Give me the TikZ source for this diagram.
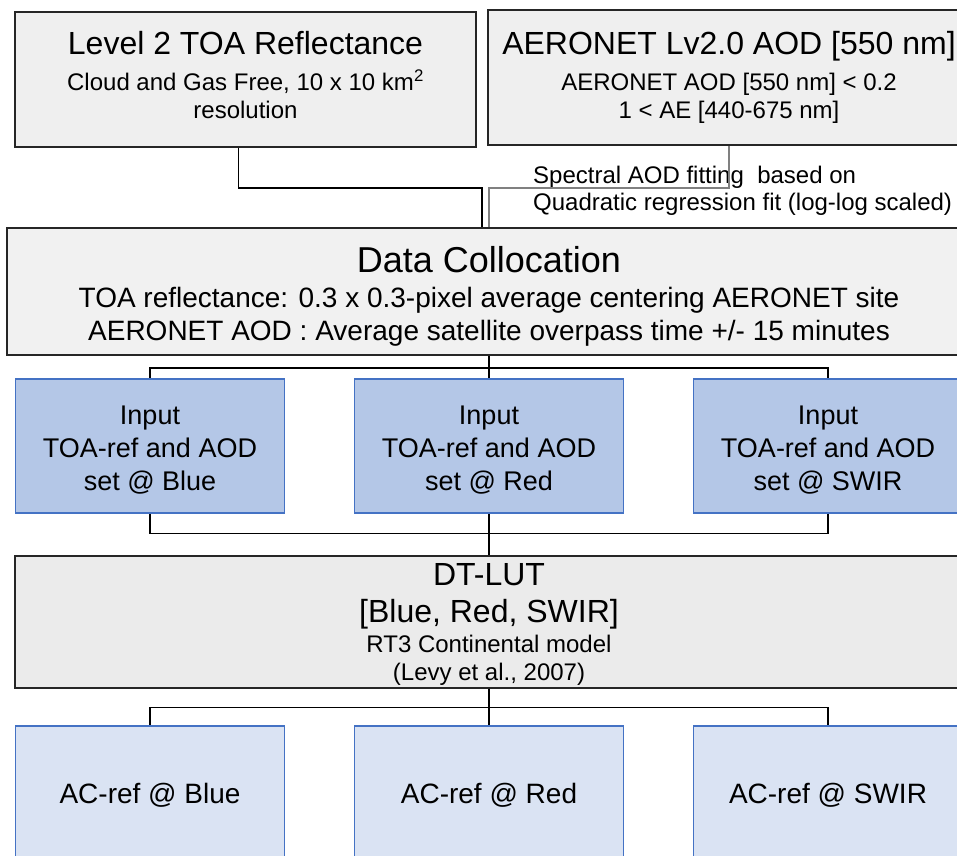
\documentclass[tikz,border=0pt]{standalone}
\usepackage{fontspec}
\setmainfont{Liberation Sans}
\definecolor{boxgrey}{RGB}{239,239,239}
\definecolor{lutgrey}{RGB}{235,235,235}
\definecolor{inputblue}{RGB}{180,199,231}
\definecolor{resultblue}{RGB}{218,227,243}
\definecolor{edgeblue}{RGB}{68,114,196}
\tikzset{
  greybox/.style={draw=black!85, line width=2pt, fill=boxgrey, align=center, inner sep=0pt},
  inputbox/.style={draw=edgeblue, line width=1.6pt, fill=inputblue, align=center, inner sep=0pt,
    minimum width=269pt, minimum height=134pt, text height=100pt, text depth=12pt,
    font=\fontsize{27}{33}\selectfont},
  resultbox/.style={draw=edgeblue, line width=1.6pt, fill=resultblue, inner sep=0pt,
    minimum width=269pt, minimum height=134pt, text height=20pt, text depth=0pt,
    font=\fontsize{28}{33}\selectfont},
  link/.style={line width=1.2pt, draw=black}
}
\newcommand{\headsize}{\fontsize{32}{36}\selectfont}
\begin{document}
\begin{tikzpicture}[x=1pt,y=-1pt]
\path [use as bounding box, fill=white] (0,0) rectangle (957,855);
\clip (0,0) rectangle (957,855);
% sources
\node [greybox, minimum width=461pt, minimum height=135pt, text height=90pt, text depth=11.8pt,
  font=\fontsize{24}{28}\selectfont] (lvl2) at (245.5,79.5)
  {{\headsize Level 2 TOA Reflectance}\\[8pt]Cloud and Gas Free, 10 x 10 km\textsuperscript{2}\\resolution};
\node [greybox, minimum width=482pt, minimum height=135pt, text height=90pt, text depth=7.8pt,
  font=\fontsize{24}{28}\selectfont] (aeronet) at (729,77.5)
  {{\headsize AERONET Lv2.0 AOD [550 nm]}\\[8pt]AERONET AOD [550 nm] < 0.2\\1 < AE [440-675 nm]};
\node [anchor=base west, align=left, inner sep=0pt, font=\fontsize{24}{27}\selectfont] (fitnote) at (533,210)
  {Spectral AOD fitting\ \ based on\\Quadratic regression fit (log-log scaled)};
% collocation
\node [greybox, fill=boxgrey!90!white, minimum width=964pt, minimum height=127pt, text height=110pt, text depth=13pt,
  font=\fontsize{28}{33}\selectfont] (colloc) at (489,291.5)
  {{\fontsize{36}{40}\selectfont Data Collocation}\\[2pt]TOA reflectance: 0.3 x 0.3-pixel average centering AERONET site\\AERONET AOD : Average satellite overpass time +/- 15 minutes};
\draw [link] ([xshift=-7pt]lvl2.south) -- ++(0,40) -| ([xshift=-7pt]colloc.north);
\draw [link, draw=black!50] (aeronet.south) -- ++(0,42) -| (colloc.north);
% inputs per band
\node [inputbox] (inblue) at (150,446) {Input\\TOA-ref and AOD\\set @ Blue};
\node [inputbox] (inred) at (489,446) {Input\\TOA-ref and AOD\\set @ Red};
\node [inputbox] (inswir) at (828,446) {Input\\TOA-ref and AOD\\set @ SWIR};
\draw [link] (colloc.south) -- ++(0,12) -| (inblue.north);
\draw [link] (colloc.south) -- (inred.north);
\draw [link] (colloc.south) -- ++(0,12) -| (inswir.north);
% look-up table
\node [greybox, fill=lutgrey, minimum width=948pt, minimum height=132pt, text height=122pt, text depth=5pt,
  font=\fontsize{24}{28}\selectfont] (dtlut) at (489,621.5)
  {{\headsize DT-LUT}\\[9.7pt]{\headsize [Blue, Red, SWIR]}\\[1.3pt]RT3 Continental model\\(Levy et al., 2007)};
\draw [link] (inblue.south) -- ++(0,20) -| (dtlut.north);
\draw [link] (inred.south) -- (dtlut.north);
\draw [link] (inswir.south) -- ++(0,20) -| (dtlut.north);
% corrected reflectance
\node [resultbox] (acblue) at (150,793) {AC-ref @ Blue};
\node [resultbox] (acred) at (489,793) {AC-ref @ Red};
\node [resultbox] (acswir) at (828,793) {AC-ref @ SWIR};
\draw [link] (dtlut.south) -- ++(0,19) -| (acblue.north);
\draw [link] (dtlut.south) -- (acred.north);
\draw [link] (dtlut.south) -- ++(0,19) -| (acswir.north);
\end{tikzpicture}
\end{document}
